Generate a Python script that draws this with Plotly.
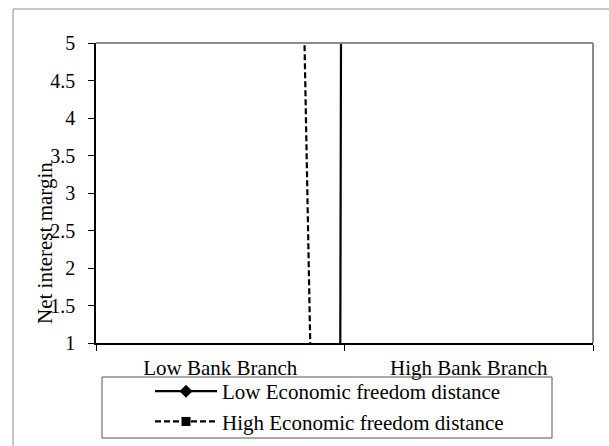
import plotly.graph_objects as go

categories = ["Low Bank Branch", "High Bank Branch"]
series_names = ["Low Economic freedom distance", "High Economic freedom distance"]
low_econ = [-685, 735]
high_econ = [64, -110]
y_ticks = [1, 1.5, 2, 2.5, 3, 3.5, 4, 4.5, 5]
y_title = "Net interest margin"

W, H = 609, 446
L, R, T, B = 96, 593, 43, 343
FONT = "Liberation Serif, Times New Roman, serif"

def px_x(px):
    return (px - L) / (R - L)

def px_y(py):
    return (B - py) / (B - T)

fig = go.Figure()
fig.add_trace(go.Scatter(
    x=categories, y=low_econ, name=series_names[0], mode="lines+markers",
    line=dict(color="black", width=2.2), marker=dict(symbol="diamond", size=10, color="black"),
))
fig.add_trace(go.Scatter(
    x=categories, y=high_econ, name=series_names[1], mode="lines+markers",
    line=dict(color="black", width=2.2, dash="6px,3px"), marker=dict(symbol="square", size=9, color="black"),
))

shapes = [
    dict(type="rect", xref="paper", yref="paper", x0=px_x(13), x1=px_x(640), y0=px_y(470), y1=px_y(9),
         line=dict(color="#8c8c8c", width=1), fillcolor="rgba(0,0,0,0)", layer="below"),
    dict(type="line", xref="paper", yref="paper", x0=0, x1=1, y0=1, y1=1, line=dict(color="#8c8c8c", width=2)),
    dict(type="line", xref="paper", yref="paper", x0=1, x1=1, y0=0, y1=1, line=dict(color="#8c8c8c", width=2)),
    dict(type="rect", xref="paper", yref="paper", x0=px_x(102), x1=px_x(552), y0=px_y(438), y1=px_y(377),
         line=dict(color="#555555", width=1), fillcolor="rgba(0,0,0,0)"),
]

fig.update_layout(
    width=W, height=H,
    margin=dict(l=L, r=W - R, t=T, b=H - B, pad=0, autoexpand=False),
    paper_bgcolor="white", plot_bgcolor="white",
    font=dict(family=FONT, color="black", size=21),
    showlegend=True,
    legend=dict(
        x=px_x(150), y=px_y(371), xanchor="left", yanchor="top",
        bgcolor="rgba(0,0,0,0)", borderwidth=0,
        font=dict(family=FONT, size=21, color="black"),
        itemwidth=62, tracegroupgap=0,
    ),
    xaxis=dict(
        type="category", range=[-0.5, 1.5], showgrid=False, zeroline=False,
        showline=True, linecolor="black", linewidth=1.5,
        ticks="outside", tickson="boundaries", ticklen=6, tickcolor="black",
        tickfont=dict(family=FONT, size=21, color="black"),
        ticklabelstandoff=5,
    ),
    yaxis=dict(
        range=[1, 5], tickvals=y_ticks, ticktext=[f"{v:g}" for v in y_ticks],
        showgrid=False, zeroline=False,
        showline=True, linecolor="black", linewidth=1.5,
        ticks="outside", ticklen=6, tickcolor="black",
        tickfont=dict(family=FONT, size=20, color="black"),
        ticklabelstandoff=9,
    ),
    shapes=shapes,
    annotations=[dict(
        text=y_title, textangle=-90, xref="paper", yref="paper",
        x=px_x(45), y=px_y(243), xanchor="center", yanchor="middle",
        showarrow=False, font=dict(family=FONT, size=21, color="black"),
    )],
)

fig.write_html("out.html", config={"displayModeBar": False},
               post_script="document.body.style.margin='0';document.body.style.overflow='hidden';")
